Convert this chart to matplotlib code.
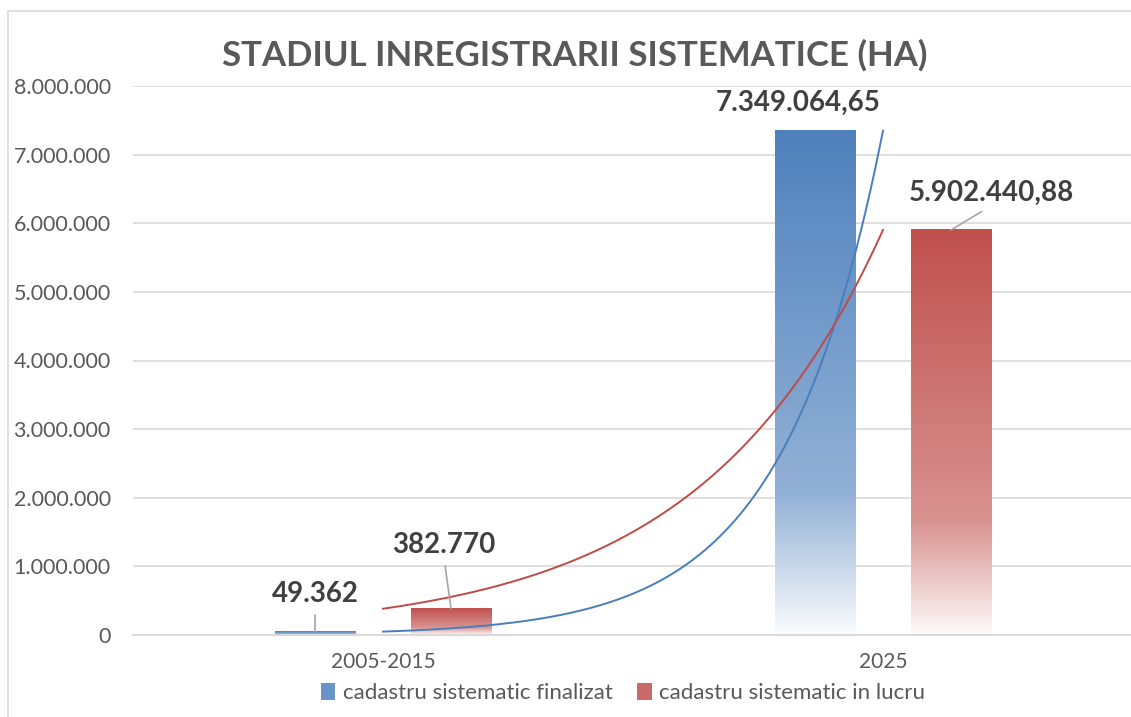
import matplotlib
matplotlib.use('Agg')
import numpy as np
import matplotlib.pyplot as plt
from matplotlib.colors import LinearSegmentedColormap, to_rgb
from matplotlib.patches import Patch, Rectangle
from matplotlib.ticker import FuncFormatter

# data (ha)
categories = ["2005-2015", "2025"]
finalizat = [49362, 7349064.65]
in_lucru = [382770, 5902440.88]
series_names = ["cadastru sistematic finalizat", "cadastru sistematic in lucru"]
value_labels_finalizat = ["49.362", "7.349.064,65"]
value_labels_lucru = ["382.770", "5.902.440,88"]

BLUE = "#4F81BD"
RED = "#C0504D"
GRID = "#d9d9d9"
TXT = "#595959"
LBL = "#404040"

plt.rcParams['font.family'] = ['Lato', 'DejaVu Sans']


def tint(c, f):
    r, g, b = to_rgb(c)
    return (r + (1 - r) * f, g + (1 - g) * f, b + (1 - b) * f)


def gradient_cmap(c):
    return LinearSegmentedColormap.from_list(
        "g", [(0.0, tint(c, 0.0)), (0.72, tint(c, 0.38)), (1.0, tint(c, 0.97))])


def thousands(v, pos):
    return "{:,.0f}".format(v).replace(",", ".")


fig = plt.figure(figsize=(11.31, 7.17), dpi=100)
ax = fig.add_axes([133 / 1131, 82 / 717, 1000 / 1131, 549 / 717])

# chart border (runs off the right and bottom edge like the original screenshot)
fig.patches.append(Rectangle((8 / 1131, -0.2), 1.2, 1.2 - 11 / 717, transform=fig.transFigure,
                             fill=False, edgecolor=GRID, lw=1.2))

x = np.arange(len(categories))
width = 0.162
offset = 0.136
grad = np.linspace(0, 1, 256).reshape(-1, 1)

for vals, shift, col in [(finalizat, -offset, BLUE), (in_lucru, offset, RED)]:
    cm = gradient_cmap(col)
    for xi, v in zip(x, vals):
        ax.imshow(grad, extent=[xi + shift - width / 2, xi + shift + width / 2, 0, v],
                  aspect='auto', cmap=cm, vmin=0, vmax=1, zorder=2, interpolation='bilinear')

# exponential trendlines (Excel style, fitted on x = 1..n)
xt = np.linspace(0, len(categories) - 1, 200)
for vals, col in [(finalizat, "#4A7EBB"), (in_lucru, "#BE4B48")]:
    b, a = np.polyfit(x + 1, np.log(vals), 1)
    ax.plot(xt, np.exp(a + b * (xt + 1)), color=col, lw=1.4, zorder=3)

# data labels (offsets in pixels from bar top)
label_offsets_finalizat = [(0, 38), (-17, 28)]
label_offsets_lucru = [(-7, 64), (40, 37)]
leader = [[True, False], [True, True]]
for si, (vals, shift, texts, offs) in enumerate([
        (finalizat, -offset, value_labels_finalizat, label_offsets_finalizat),
        (in_lucru, offset, value_labels_lucru, label_offsets_lucru)]):
    for i, v in enumerate(vals):
        kw = {}
        if leader[si][i]:
            kw['arrowprops'] = dict(arrowstyle='-', color="#a6a6a6", lw=1.2,
                                    shrinkA=4, shrinkB=0, relpos=(0.5, 0))
        ax.annotate(texts[i], xy=(x[i] + shift, v), xytext=offs[i],
                    textcoords='offset pixels', ha='center', va='center',
                    fontsize=20, fontweight='bold', color=LBL, zorder=5, **kw)

ax.set_xlim(-0.5, len(categories) - 0.5)
ax.set_ylim(0, 8000000)
ax.set_yticks(np.arange(0, 8000001, 1000000))
ax.yaxis.set_major_formatter(FuncFormatter(thousands))
ax.set_xticks(x)
ax.set_xticklabels(categories)
ax.tick_params(axis='y', length=0, pad=16, labelsize=15.5, labelcolor=TXT)
ax.tick_params(axis='x', length=0, pad=12, labelsize=15, labelcolor=TXT)
ax.grid(axis='y', color=GRID, lw=1.2, zorder=0)
ax.set_axisbelow(True)
for s in ['top', 'right', 'left']:
    ax.spines[s].set_visible(False)
ax.spines['bottom'].set_color(GRID)
ax.spines['bottom'].set_linewidth(1.4)

fig.text(575 / 1131, 1 - 55 / 717, "STADIUL INREGISTRARII SISTEMATICE (HA)",
         ha='center', va='center', fontsize=25, fontweight='bold', color=TXT)

handles = [Patch(facecolor=tint(BLUE, 0.15), edgecolor='none'),
           Patch(facecolor=tint(RED, 0.15), edgecolor='none')]
fig.legend(handles, series_names, loc='center', bbox_to_anchor=(623 / 1131, 1 - 693 / 717),
           ncol=2, frameon=False, fontsize=16, labelcolor=TXT, handlelength=0.65,
           handleheight=0.8, handletextpad=0.35, columnspacing=1.1)

fig.savefig("out.png", dpi=100)
